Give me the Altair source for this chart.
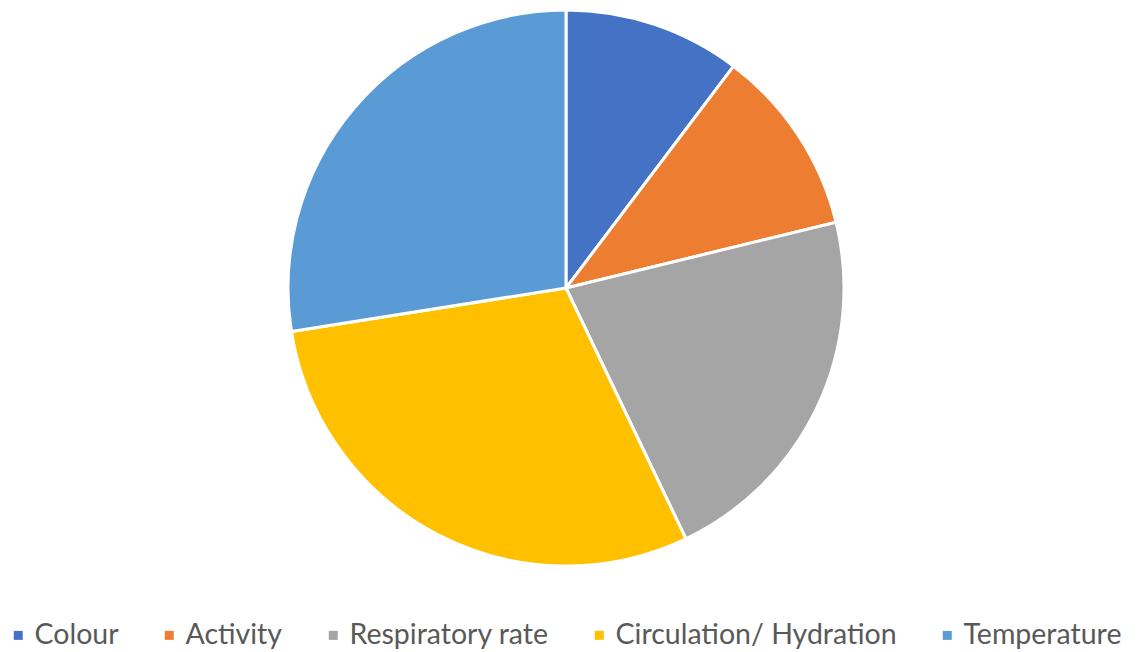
import altair as alt
import pandas as pd

# Share of each assessment category (percent)
categories = ["Colour", "Activity", "Respiratory rate", "Circulation/ Hydration", "Temperature"]
shares = [10.3, 10.9, 21.7, 29.6, 27.5]
colors = ["#4472C4", "#ED7D31", "#A5A5A5", "#FFC000", "#5B9BD5"]

df = pd.DataFrame({
    "category": categories,
    "share": shares,
    "order": list(range(len(categories))),
})

chart = (
    alt.Chart(df)
    .mark_arc(radius=278, stroke="white", strokeWidth=3)
    .encode(
        theta=alt.Theta("share:Q", stack=True),
        order=alt.Order("order:Q"),
        x=alt.value(566),
        y=alt.value(288),
        color=alt.Color(
            "category:N",
            sort=categories,
            scale=alt.Scale(domain=categories, range=colors),
            legend=alt.Legend(
                title=None,
                orient="none",
                direction="horizontal",
                legendX=4,
                legendY=621,
                padding=0,
                symbolType="square",
                symbolSize=81,
                symbolStrokeWidth=0,
                labelFont="Lato",
                labelFontSize=28.5,
                labelColor="#595959",
                labelOffset=2,
                columnPadding=36,
                labelLimit=400,
            ),
        ),
    )
    .properties(
        width=1137,
        height=652,
        autosize=alt.AutoSizeParams(type="none"),
        padding=0,
    )
    .configure_view(strokeWidth=0)
)

chart.save("out.html", embed_options={"renderer": "svg", "actions": False})
